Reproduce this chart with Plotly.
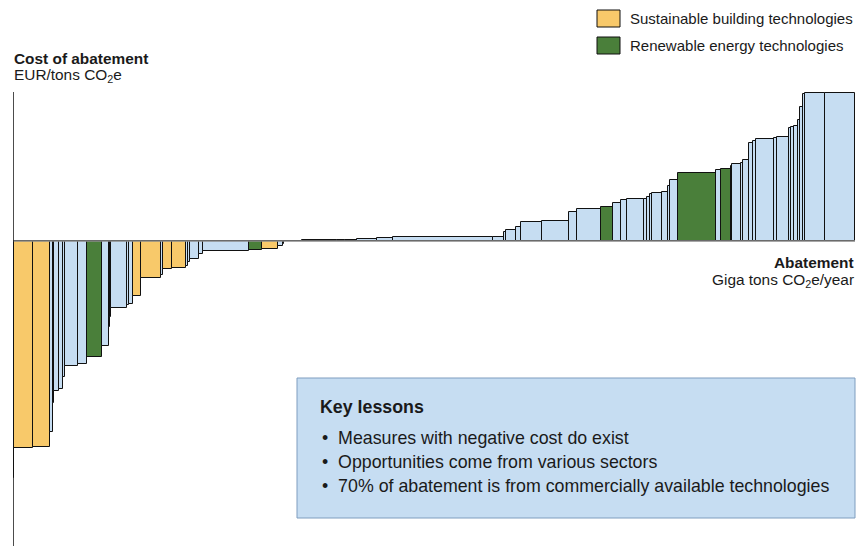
import numpy as np
import plotly.graph_objects as go

# Abatement potential of each measure (Gt CO2e/year), left to right
abatement = [0.04, 0.67, 0.60, 0.09, 0.05, 0.15, 0.15, 0.08, 0.44, 0.34,
             0.50, 0.24, 0.04, 0.04, 0.56, 0.08, 0.15, 0.28, 0.68, 0.07,
             0.34, 0.48, 0.07, 0.07, 0.33, 0.12, 1.63, 0.43, 0.56, 0.18,
             0.05, 0.63, 1.23, 0.28, 0.41, 0.72, 0.54, 3.50, 0.40, 0.07,
             0.35, 0.18, 0.75, 0.92, 0.28, 0.85, 0.41, 0.29, 0.20, 0.61,
             0.12, 0.09, 0.06, 0.36, 0.22, 0.08, 0.27, 1.32, 0.18, 0.34,
             0.06, 0.29, 0.09, 0.21, 0.14, 0.09, 0.64, 0.11, 0.42, 0.06,
             0.11, 0.15, 0.07, 0.09, 0.07, 0.70, 1.05]

# Cost of abatement of each measure (EUR/t CO2e)
cost = [-118.5, -103.3, -102.9, -95.5, -81.0, -74.8, -74.0, -67.8, -62.3, -61.7,
        -58.2, -52.3, -43.0, -37.8, -33.5, -32.0, -31.5, -27.7, -18.3, -17.0,
        -14.0, -13.5, -12.3, -10.7, -9.0, -6.7, -5.0, -4.5, -4.0, -2.5,
        -1.7, -0.2, 0.3, 0.5, 0.7, 1.0, 1.3, 2.0, 2.2, 4.3,
        5.5, 6.8, 9.3, 9.8, 14.7, 15.8, 16.8, 18.8, 20.3, 20.8,
        21.0, 22.2, 23.5, 23.8, 24.3, 27.7, 30.5, 33.8, 35.5, 36.2,
        37.5, 38.3, 38.8, 40.5, 48.8, 50.0, 51.0, 51.3, 52.0, 56.3,
        57.2, 57.3, 60.5, 66.8, 73.5, 73.8, 74.2]

# Technology group: B = sustainable building, R = renewable energy, O = other
group = ["O", "B", "B", "O", "O", "O", "O", "O", "O", "O",
         "R", "O", "O", "O", "O", "O", "O", "B", "B", "O",
         "B", "B", "O", "O", "O", "O", "O", "R", "B", "O",
         "O", "O", "O", "O", "O", "O", "O", "O", "O", "O",
         "O", "O", "O", "O", "O", "O", "R", "O", "O", "O",
         "O", "O", "O", "O", "O", "O", "O", "R", "O", "R",
         "O", "O", "O", "O", "O", "O", "O", "O", "O", "O",
         "O", "O", "O", "O", "O", "O", "O"]

legend_labels = {"B": "Sustainable building technologies",
                 "R": "Renewable energy technologies"}
lessons = ["Measures with negative cost do exist",
           "Opportunities come from various sectors",
           "70% of abatement is from commercially available technologies"]

COLORS = {"B": "#F8C96A", "R": "#4A7F3A", "O": "#C6DDF2"}
FONT = "Liberation Sans, Arial, sans-serif"
TXT = "#1a1a1a"

W, H = 859, 546
L, R, T, B = 13, 4, 92, 0
x_total_px = W - L - R
y_top, y_bot = 74.5, -152.5

widths = np.array(abatement)
lefts = np.concatenate([[0], np.cumsum(widths)[:-1]])
mids = lefts + widths / 2
x_max = widths.sum() * 1.0005

fig = go.Figure()
fig.add_trace(go.Bar(
    x=mids, y=cost, width=widths, base=0,
    marker=dict(color=[COLORS[g] for g in group],
                line=dict(color="#111111", width=1)),
    showlegend=False, hoverinfo="skip",
))


def px(x):
    return (x - L) / x_total_px


def py(y):
    return (H - B - y) / (H - T - B)


shapes = []
# axes
shapes.append(dict(type="line", xref="x", yref="y", x0=0, x1=x_max, y0=0, y1=0,
                   line=dict(color="#8a8a8a", width=1.5), layer="above"))
shapes.append(dict(type="line", xref="x", yref="paper", x0=0, x1=0, y0=0, y1=1,
                   line=dict(color="#111111", width=1.5), layer="above"))

annotations = []
# legend
for i, key in enumerate(["B", "R"]):
    y0 = 10 + i * 27
    shapes.append(dict(type="rect", xref="paper", yref="paper",
                       x0=px(597), x1=px(620), y0=py(y0 + 17), y1=py(y0),
                       fillcolor=COLORS[key], line=dict(color="#111111", width=1)))
    annotations.append(dict(xref="paper", yref="paper", x=px(628), y=py(y0 + 8.5),
                            text=legend_labels[key], showarrow=False,
                            xanchor="left", yanchor="middle",
                            font=dict(size=15, color=TXT, family=FONT)))

# axis titles
annotations.append(dict(xref="paper", yref="paper", x=px(12), y=py(59),
                        text="<b>Cost of abatement</b>", showarrow=False,
                        xanchor="left", yanchor="middle",
                        font=dict(size=15.4, color=TXT, family=FONT)))
annotations.append(dict(xref="paper", yref="paper", x=px(12), y=py(76),
                        text="EUR/tons CO<sub>2</sub>e", showarrow=False,
                        xanchor="left", yanchor="middle",
                        font=dict(size=15.4, color=TXT, family=FONT)))
annotations.append(dict(xref="paper", yref="paper", x=px(856), y=py(262),
                        text="<b>Abatement</b>", showarrow=False,
                        xanchor="right", yanchor="middle",
                        font=dict(size=15.4, color=TXT, family=FONT)))
annotations.append(dict(xref="paper", yref="paper", x=px(856), y=py(280),
                        text="Giga tons CO<sub>2</sub>e/year", showarrow=False,
                        xanchor="right", yanchor="middle",
                        font=dict(size=15.4, color=TXT, family=FONT)))

# key lessons box
shapes.append(dict(type="rect", xref="paper", yref="paper",
                   x0=px(297), x1=px(855), y0=py(518), y1=py(378),
                   fillcolor="#C6DDF2", line=dict(color="#7F9DBF", width=1),
                   layer="above"))
annotations.append(dict(xref="paper", yref="paper", x=px(318), y=py(407),
                        text="<b>Key lessons</b>", showarrow=False,
                        xanchor="left", yanchor="middle",
                        font=dict(size=17.8, color=TXT, family=FONT)))
for i, line in enumerate(lessons):
    annotations.append(dict(xref="paper", yref="paper", x=px(320), y=py(438 + 24 * i),
                            text="•  " + line, showarrow=False,
                            xanchor="left", yanchor="middle",
                            font=dict(size=17.8, color=TXT, family=FONT)))

fig.update_layout(
    width=W, height=H,
    margin=dict(l=L, r=R, t=T, b=B, pad=0),
    paper_bgcolor="white", plot_bgcolor="white",
    bargap=0,
    xaxis=dict(range=[0, x_max], visible=False, fixedrange=True),
    yaxis=dict(range=[y_bot, y_top], visible=False, fixedrange=True),
    shapes=shapes, annotations=annotations,
)

fig.write_html("out.html")
